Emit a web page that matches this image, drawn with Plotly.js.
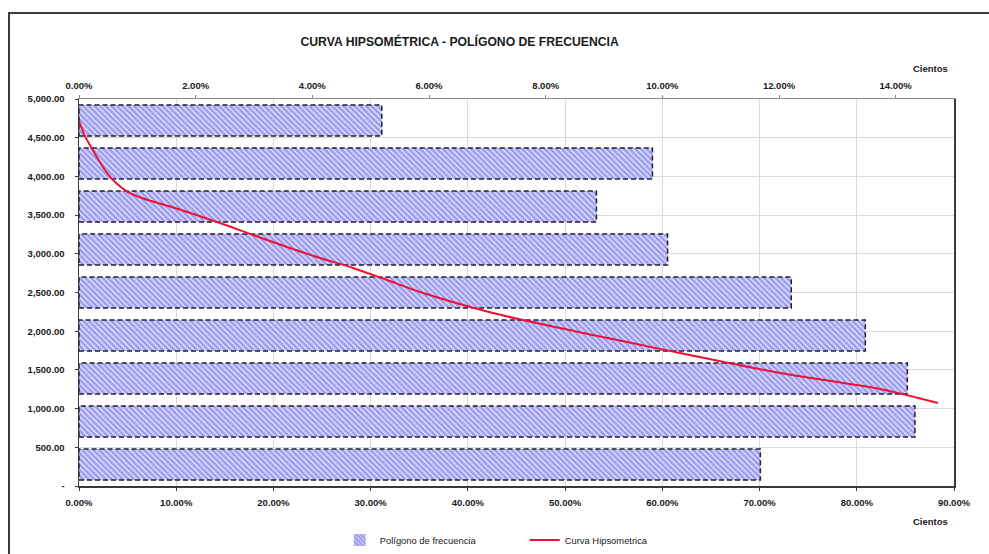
<!DOCTYPE html>
<html>
<head>
<meta charset="utf-8">
<script src="https://cdn.plot.ly/plotly-3.0.1.min.js"></script>
<style>
  html, body { margin: 0; padding: 0; background: #ffffff; }
  #wrap { position: relative; width: 989px; height: 554px; overflow: hidden; }
  #chart { width: 989px; height: 554px; }
  #frame {
    position: absolute; left: 8px; top: 12px; width: 1000px; height: 600px;
    border: 2px solid #3c3c3c; pointer-events: none; box-sizing: border-box;
  }
</style>
</head>
<body>
<div id="wrap">
  <div id="chart"></div>
  <div id="frame"></div>
</div>
<script>
// Elevation classes, bottom (lowest) to top (highest)
var clases = [0, 1, 2, 3, 4, 5, 6, 7, 8];
// Frequency of each class (share of area)
var frecuencia = [0.1168, 0.1433, 0.1420, 0.1348, 0.1221, 0.1009, 0.0887, 0.0983, 0.0519];

// Hypsometric curve: share of area vs elevation (m)
var curvaArea = [0, 0.0062, 0.0165, 0.0267, 0.0370, 0.0504, 0.0648, 0.0987, 0.1450,
                 0.1790, 0.2139, 0.2479, 0.2818, 0.3168, 0.3508, 0.4258, 0.4947,
                 0.5637, 0.6182, 0.7211, 0.8239, 0.8835];
var curvaCota = [4716, 4520, 4290, 4083, 3928, 3798, 3721, 3592, 3398,
                 3243, 3088, 2946, 2817, 2661, 2506, 2235, 2041,
                 1860, 1718, 1460, 1253, 1072];

// Elevation axis labels
var cotaTicks = [0, 500, 1000, 1500, 2000, 2500, 3000, 3500, 4000, 4500, 5000];
var cotaTexto = ['-', '500.00', '1,000.00', '1,500.00', '2,000.00', '2,500.00',
                 '3,000.00', '3,500.00', '4,000.00', '4,500.00', '5,000.00'];

var BAR_W = 0.72;
var FONT = 'Liberation Sans, Arial, sans-serif';

// dashed outline around every bar, built from the same frequencies
var ox = [], oy = [];
clases.forEach(function (c, i) {
  var v = frecuencia[i], h = BAR_W / 2;
  ox.push(0, v, v, 0, 0, null);
  oy.push(c - h, c - h, c + h, c + h, c - h, null);
});

var barras = {
  type: 'bar', orientation: 'h',
  x: frecuencia, y: clases, width: BAR_W,
  xaxis: 'x', yaxis: 'y',
  name: 'Polígono de frecuencia',
  marker: {
    color: '#9d9df2',
    line: { width: 0 },
    pattern: { shape: '\\', fgcolor: '#ffffff', bgcolor: '#9d9df2', size: 4, solidity: 0.25, fillmode: 'replace' }
  },
  hoverinfo: 'x'
};

var bordes = {
  type: 'scatter', mode: 'lines',
  x: ox, y: oy, xaxis: 'x', yaxis: 'y',
  line: { color: '#1f1f2a', width: 1.5, dash: '5px,3px' },
  showlegend: false, hoverinfo: 'skip', connectgaps: false
};

var curva = {
  type: 'scatter', mode: 'lines',
  x: curvaArea, y: curvaCota, xaxis: 'x2', yaxis: 'y2',
  name: 'Curva Hipsometrica',
  line: { color: '#ee1133', width: 2, shape: 'spline', smoothing: 0.8 }
};

var tickFont = { family: FONT, size: 9.5, color: '#1a1a1a', weight: 'bold' };

var layout = {
  width: 989, height: 554,
  margin: { l: 79, r: 35, t: 99, b: 68 },
  paper_bgcolor: '#ffffff', plot_bgcolor: '#ffffff',
  font: { family: FONT, color: '#1a1a1a' },
  title: {
    text: 'CURVA HIPSOMÉTRICA - POLÍGONO DE FRECUENCIA',
    font: { family: FONT, size: 12.2, color: '#1a1a1a', weight: 'bold' },
    xref: 'paper', x: 0.435, xanchor: 'center',
    yref: 'container', y: 0.924, yanchor: 'middle'
  },
  // frequency axis (top)
  xaxis: {
    side: 'top', anchor: 'y', range: [0, 0.15],
    tickvals: [0, 0.02, 0.04, 0.06, 0.08, 0.10, 0.12, 0.14], tickformat: '.2%',
    showgrid: false, zeroline: false,
    showline: true, linecolor: '#8a8a8a', linewidth: 1.5,
    ticks: 'outside', ticklen: 3, tickcolor: '#8a8a8a',
    tickfont: tickFont, ticklabelstandoff: 2
  },
  yaxis: {
    range: [-0.5, 8.5], visible: false, fixedrange: true
  },
  // cumulative area axis (bottom)
  xaxis2: {
    overlaying: 'x', side: 'bottom', anchor: 'y2', range: [0, 0.9],
    tickvals: [0, 0.1, 0.2, 0.3, 0.4, 0.5, 0.6, 0.7, 0.8, 0.9], tickformat: '.2%',
    showgrid: true, gridcolor: '#dadada', gridwidth: 1, zeroline: false,
    showline: true, linecolor: '#3a3a3a', linewidth: 1.5,
    ticks: 'outside', ticklen: 3, tickcolor: '#3a3a3a',
    tickfont: tickFont, ticklabelstandoff: 4
  },
  // elevation axis (left)
  yaxis2: {
    overlaying: 'y', side: 'left', anchor: 'x2', range: [0, 5000],
    tickvals: cotaTicks, ticktext: cotaTexto,
    showgrid: true, gridcolor: '#dadada', gridwidth: 1, zeroline: false,
    showline: true, mirror: true, linecolor: '#3a3a3a', linewidth: 1.5,
    ticks: 'outside', ticklen: 3, tickcolor: '#3a3a3a',
    tickfont: tickFont, ticklabelstandoff: 8
  },
  annotations: [
    { text: 'Cientos', xref: 'paper', yref: 'paper', x: 0.9726, y: 1.080,
      showarrow: false, xanchor: 'center', yanchor: 'middle',
      font: { family: FONT, size: 9.5, color: '#1a1a1a', weight: 'bold' } },
    { text: 'Cientos', xref: 'paper', yref: 'paper', x: 0.9726, y: -0.093,
      showarrow: false, xanchor: 'center', yanchor: 'middle',
      font: { family: FONT, size: 9.5, color: '#1a1a1a', weight: 'bold' } }
  ],
  legend: {
    orientation: 'h', xref: 'paper', x: 0.298, xanchor: 'left',
    yref: 'container', y: 0.0253, yanchor: 'middle',
    font: { family: FONT, size: 9.4, color: '#1a1a1a' },
    entrywidth: 140, entrywidthmode: 'pixels',
    itemwidth: 30, bgcolor: 'rgba(0,0,0,0)'
  },
  showlegend: true,
  bargap: 0.28
};

Plotly.newPlot('chart', [barras, bordes, curva], layout, { displayModeBar: false, staticPlot: true });
</script>
</body>
</html>
